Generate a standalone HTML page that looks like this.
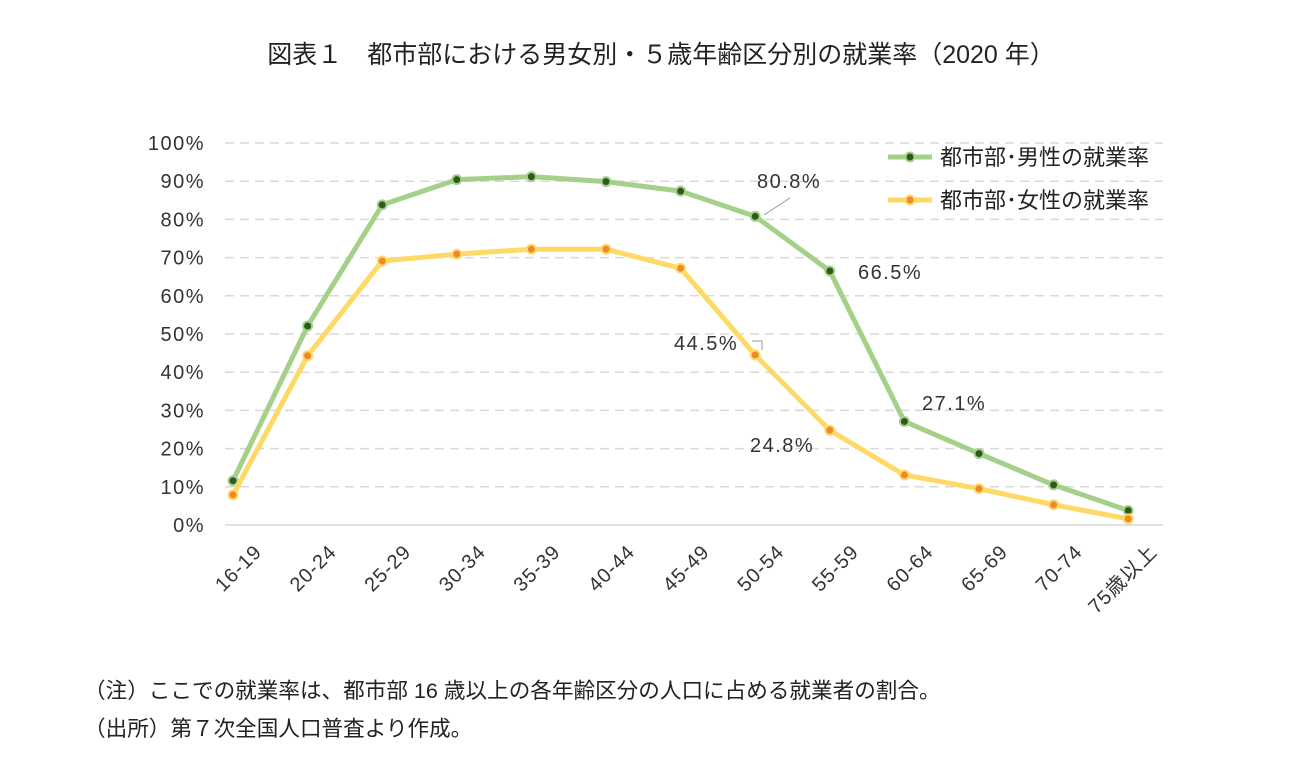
<!DOCTYPE html>
<html><head><meta charset="utf-8"><style>
body{margin:0;width:1304px;height:777px;background:#fff;overflow:hidden;font-family:"Liberation Sans","Noto Sans CJK JP",sans-serif;}
</style></head><body>
<svg id="chart" width="1304" height="777" style="font-family:'Liberation Sans','Noto Sans CJK JP',sans-serif">
<text x="661" y="63" text-anchor="middle" font-size="25" fill="#222">図表１　都市部における男女別・５歳年齢区分別の就業率（2020 年）</text>
<g id="grid"></g><g id="yticks"></g><g id="xticks"></g><g id="series"></g>
<g>
<line x1="888" y1="157" x2="932" y2="157" stroke="#a5d08a" stroke-width="5"/><circle cx="910" cy="157" r="4.5" fill="#2d5a1f" stroke="#a5d08a" stroke-width="2"/>
<text x="940" y="165" font-size="22" fill="#222">都市部･男性の就業率</text>
<line x1="888" y1="200" x2="932" y2="200" stroke="#ffd965" stroke-width="5"/><circle cx="910" cy="200" r="4.5" fill="#ee8a2c" stroke="#ffd965" stroke-width="2"/>
<text x="940" y="208" font-size="22" fill="#222">都市部･女性の就業率</text>
</g>
<g font-size="20" letter-spacing="1.5" fill="#333">
<text x="757" y="188">80.8%</text>
<line x1="764" y1="215" x2="790" y2="198" stroke="#999"/>
<text x="858" y="279">66.5%</text>
<text x="922" y="410">27.1%</text>
<text x="674" y="350">44.5%</text>
<polyline points="752,341 762,341 762,350" fill="none" stroke="#999"/>
<text x="750" y="452">24.8%</text>
</g>
<text x="84" y="698" font-size="21.6" fill="#222">（注）ここでの就業率は、都市部 16 歳以上の各年齢区分の人口に占める就業者の割合。</text>
<text x="84" y="736" font-size="21.6" fill="#222">（出所）第７次全国人口普査より作成。</text>
</svg>
<script>
const categories=["16-19","20-24","25-29","30-34","35-39","40-44","45-49","50-54","55-59","60-64","65-69","70-74","75歳以上"];
const maleValues=[11.6,52.1,83.8,90.4,91.2,89.9,87.4,80.8,66.5,27.1,18.7,10.5,3.8];
const femaleValues=[7.9,44.3,69.1,70.9,72.2,72.2,67.2,44.5,24.8,13.1,9.5,5.3,1.6];
const yTicks=[0,10,20,30,40,50,60,70,80,90,100];
const NS="http://www.w3.org/2000/svg";
const x0=233,dx=74.6,yb=525,ppu=3.82;
const X=i=>x0+i*dx, Y=v=>yb-v*ppu;
function mk(t,a,p){const e=document.createElementNS(NS,t);for(const k in a)e.setAttribute(k,a[k]);p.appendChild(e);return e;}
const grid=document.getElementById('grid'),yt=document.getElementById('yticks'),xt=document.getElementById('xticks'),se=document.getElementById('series');
yTicks.forEach(v=>{
  const l=mk('line',{x1:225,x2:1163,y1:Y(v),y2:Y(v),stroke:'#d9d9d9','stroke-width':1.5,'stroke-dasharray':v===0?'':'9,6'},grid);
  
  
  const t=mk('text',{x:205,y:Y(v)+7,'text-anchor':'end','font-size':20,'letter-spacing':1.5,fill:'#333'},yt);
  t.textContent=v+'%';
  
  
});
categories.forEach((c,i)=>{
  const ax=X(i)+30,ay=553;
  const t=mk('text',{x:ax,y:ay,'text-anchor':'end','font-size':20,'letter-spacing':1,fill:'#333',transform:`rotate(-45 ${ax} ${ay})`},xt);
  t.textContent=c;
  
  
});
function draw(vals,lc,fc,name){
  const g=mk('g',{},se);
  
  
  mk('polyline',{points:vals.map((v,i)=>X(i)+','+Y(v)).join(' '),fill:'none',stroke:lc,'stroke-width':5,'stroke-linejoin':'round'},g);
  vals.forEach((v,i)=>{
    const c=mk('circle',{cx:X(i),cy:Y(v),r:4.5,fill:fc,stroke:lc,'stroke-width':2},g);
    
    
  });
}
draw(maleValues,'#a5d08a','#2d5a1f','male-series');
draw(femaleValues,'#ffd965','#ee8a2c','female-series');
</script>
</body></html>
